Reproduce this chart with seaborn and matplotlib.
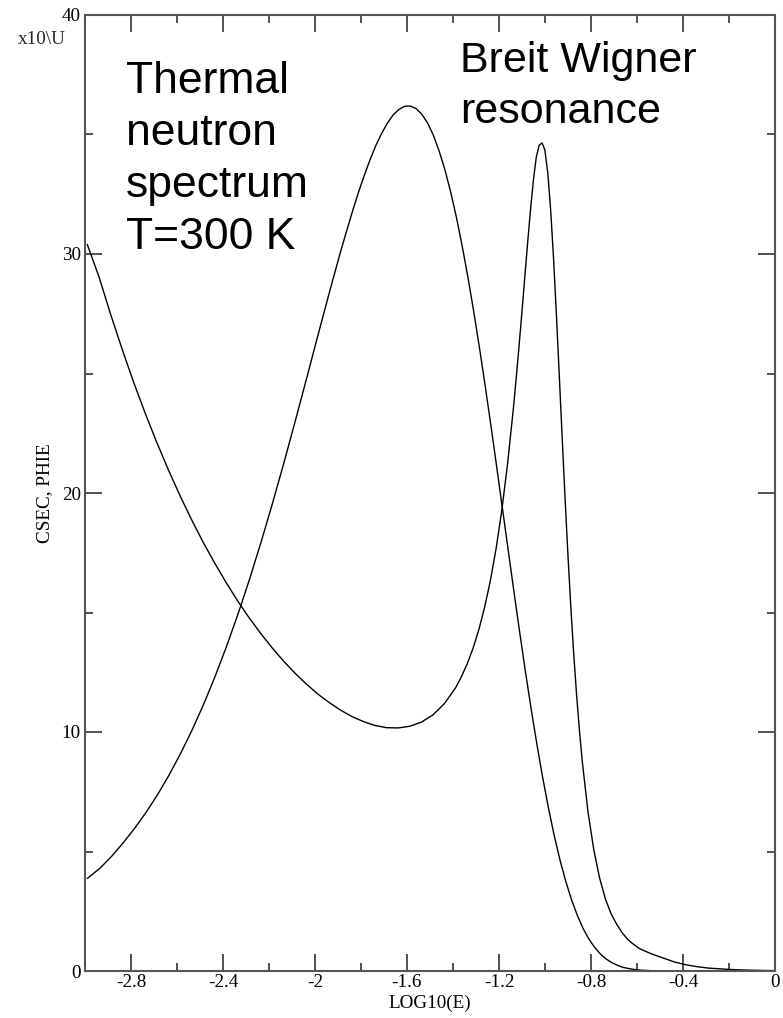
import matplotlib
matplotlib.use("Agg")
import matplotlib.pyplot as plt
import seaborn as sns
import pandas as pd
from matplotlib.ticker import MultipleLocator

# ---- data ----
thermal_x = [-2.99, -2.935, -2.885, -2.835, -2.785, -2.735, -2.685, -2.635, -2.585, -2.535,
             -2.485, -2.435, -2.385, -2.335, -2.285, -2.235, -2.185, -2.135, -2.085, -2.035,
             -1.985, -1.935, -1.885, -1.835, -1.81, -1.785, -1.76, -1.735, -1.71, -1.685,
             -1.66, -1.635, -1.61, -1.585, -1.56, -1.535, -1.51, -1.485, -1.46, -1.435,
             -1.41, -1.385, -1.36, -1.335, -1.31, -1.285, -1.26, -1.235, -1.21, -1.185,
             -1.16, -1.135, -1.11, -1.085, -1.06, -1.035, -1.01, -0.985, -0.96, -0.935,
             -0.91, -0.885, -0.86, -0.835, -0.81, -0.785, -0.76, -0.735, -0.71, -0.685,
             -0.66, -0.635, -0.61, -0.585, -0.535, -0.485, -0.4, -0.2, 0.0]
thermal_y = [3.87, 4.30, 4.79, 5.35, 5.96, 6.63, 7.37, 8.19, 9.09, 10.07,
             11.14, 12.31, 13.57, 14.93, 16.38, 17.93, 19.56, 21.27, 23.04, 24.85,
             26.68, 28.48, 30.23, 31.85, 32.61, 33.31, 33.96, 34.55, 35.05, 35.48,
             35.82, 36.05, 36.18, 36.19, 36.08, 35.84, 35.47, 34.96, 34.30, 33.52,
             32.59, 31.53, 30.33, 29.02, 27.60, 26.08, 24.48, 22.81, 21.09, 19.35,
             17.61, 15.87, 14.17, 12.52, 10.95, 9.47, 8.09, 6.82, 5.67, 4.65,
             3.76, 2.99, 2.34, 1.79, 1.35, 1.00, 0.72, 0.51, 0.35, 0.24,
             0.15, 0.10, 0.06, 0.036, 0.012, 0.003, 0.0, 0.0, 0.0]

reson_x = [-2.99, -2.938, -2.888, -2.838, -2.788, -2.738, -2.688, -2.638, -2.588, -2.538,
           -2.488, -2.438, -2.388, -2.338, -2.288, -2.238, -2.188, -2.138, -2.088, -2.038,
           -1.988, -1.938, -1.888, -1.838, -1.788, -1.738, -1.688, -1.638, -1.588, -1.538,
           -1.488, -1.438, -1.388, -1.363, -1.338, -1.313, -1.288, -1.263, -1.238, -1.213,
           -1.188, -1.163, -1.138, -1.1255, -1.113, -1.1005, -1.088, -1.0755, -1.063, -1.0505,
           -1.038, -1.0255, -1.013, -1.0005, -0.988, -0.9755, -0.963, -0.9505, -0.938, -0.9255,
           -0.913, -0.9005, -0.888, -0.8755, -0.863, -0.8505, -0.838, -0.813, -0.788, -0.763,
           -0.738, -0.713, -0.688, -0.663, -0.638, -0.613, -0.588, -0.538, -0.488, -0.438,
           -0.388, -0.338, -0.288, -0.188, -0.088, 0.0]
reson_y = [30.4, 29.01, 27.46, 26.00, 24.62, 23.33, 22.12, 20.98, 19.91, 18.91,
           17.97, 17.10, 16.28, 15.51, 14.80, 14.15, 13.54, 12.98, 12.47, 12.01,
           11.59, 11.23, 10.91, 10.64, 10.43, 10.27, 10.18, 10.17, 10.24, 10.41,
           10.71, 11.18, 11.86, 12.32, 12.86, 13.50, 14.27, 15.20, 16.31, 17.65,
           19.26, 21.20, 23.49, 24.77, 26.13, 27.55, 29.01, 30.47, 31.85, 33.08,
           34.05, 34.55, 34.65, 34.35, 33.40, 31.86, 29.84, 27.48, 24.94, 22.35,
           19.83, 17.45, 15.28, 13.32, 11.60, 10.09, 8.77, 6.65, 5.08, 3.905,
           3.03, 2.40, 1.95, 1.58, 1.30, 1.10, 0.93, 0.72, 0.55, 0.38,
           0.26, 0.18, 0.12, 0.06, 0.03, 0.015]

xlabel = "LOG10(E)"
ylabel = "CSEC, PHIE"
x_ticks = [-2.8, -2.4, -2.0, -1.6, -1.2, -0.8, -0.4, 0.0]
x_ticklabels = ["-2.8", "-2.4", "-2", "-1.6", "-1.2", "-0.8", "-0.4", "0"]
y_ticks = [0, 10, 20, 30, 40]
y_ticklabels = ["0", "10", "20", "30", "40"]
label_thermal = "Thermal\nneutron\nspectrum\nT=300 K"
label_reson = "Breit Wigner\nresonance"
scale_note = "x10\\U"

# ---- plotting ----
sns.set_theme(style="white")
plt.rcParams["font.family"] = ["Liberation Serif", "DejaVu Serif"]

fig = plt.figure(figsize=(7.83, 10.18), dpi=100)
ax = fig.add_axes([85 / 783, 1 - 971 / 1018, 690 / 783, 956 / 1018])

df_t = pd.DataFrame({"x": thermal_x, "y": thermal_y})
df_r = pd.DataFrame({"x": reson_x, "y": reson_y})
sns.lineplot(data=df_t, x="x", y="y", ax=ax, color="black", lw=1.0, sort=False, estimator=None)
sns.lineplot(data=df_r, x="x", y="y", ax=ax, color="black", lw=1.0, sort=False, estimator=None)

ax.set_xlim(-3, 0)
ax.set_ylim(0, 40)
ax.set_xticks(x_ticks)
ax.set_xticklabels(x_ticklabels)
ax.set_yticks(y_ticks)
ax.set_yticklabels(y_ticklabels)
ax.xaxis.set_minor_locator(MultipleLocator(0.2))
ax.yaxis.set_minor_locator(MultipleLocator(5))

for s in ax.spines.values():
    s.set_visible(True)
    s.set_color("#555555")
    s.set_linewidth(1.5)

fs = 13.8
ax.tick_params(which="both", direction="in", top=True, right=True, bottom=True, left=True,
               labelsize=fs, color="#333333", labelcolor="black", width=1.2)
ax.tick_params(which="major", length=12)
ax.tick_params(which="minor", length=6)
ax.tick_params(axis="x", which="major", pad=2.5)
ax.tick_params(axis="y", which="major", pad=3)

ax.set_xlabel(xlabel, fontsize=fs, labelpad=2, color="black")
ax.set_ylabel(ylabel, fontsize=fs, labelpad=6, color="black")

ax.text(-2.822, 38.06, label_thermal, fontsize=32, family=["Liberation Sans", "DejaVu Sans"],
        va="top", ha="left", linespacing=1.345, color="black")
ax.text(-1.37, 38.9, label_reson, fontsize=31, family=["Liberation Sans", "DejaVu Sans"],
        va="top", ha="left", linespacing=1.35, color="black")

fig.text(42 / 783, 1 - 40 / 1018, scale_note, fontsize=fs, ha="center", va="center")

fig.savefig("out.png", dpi=100)
